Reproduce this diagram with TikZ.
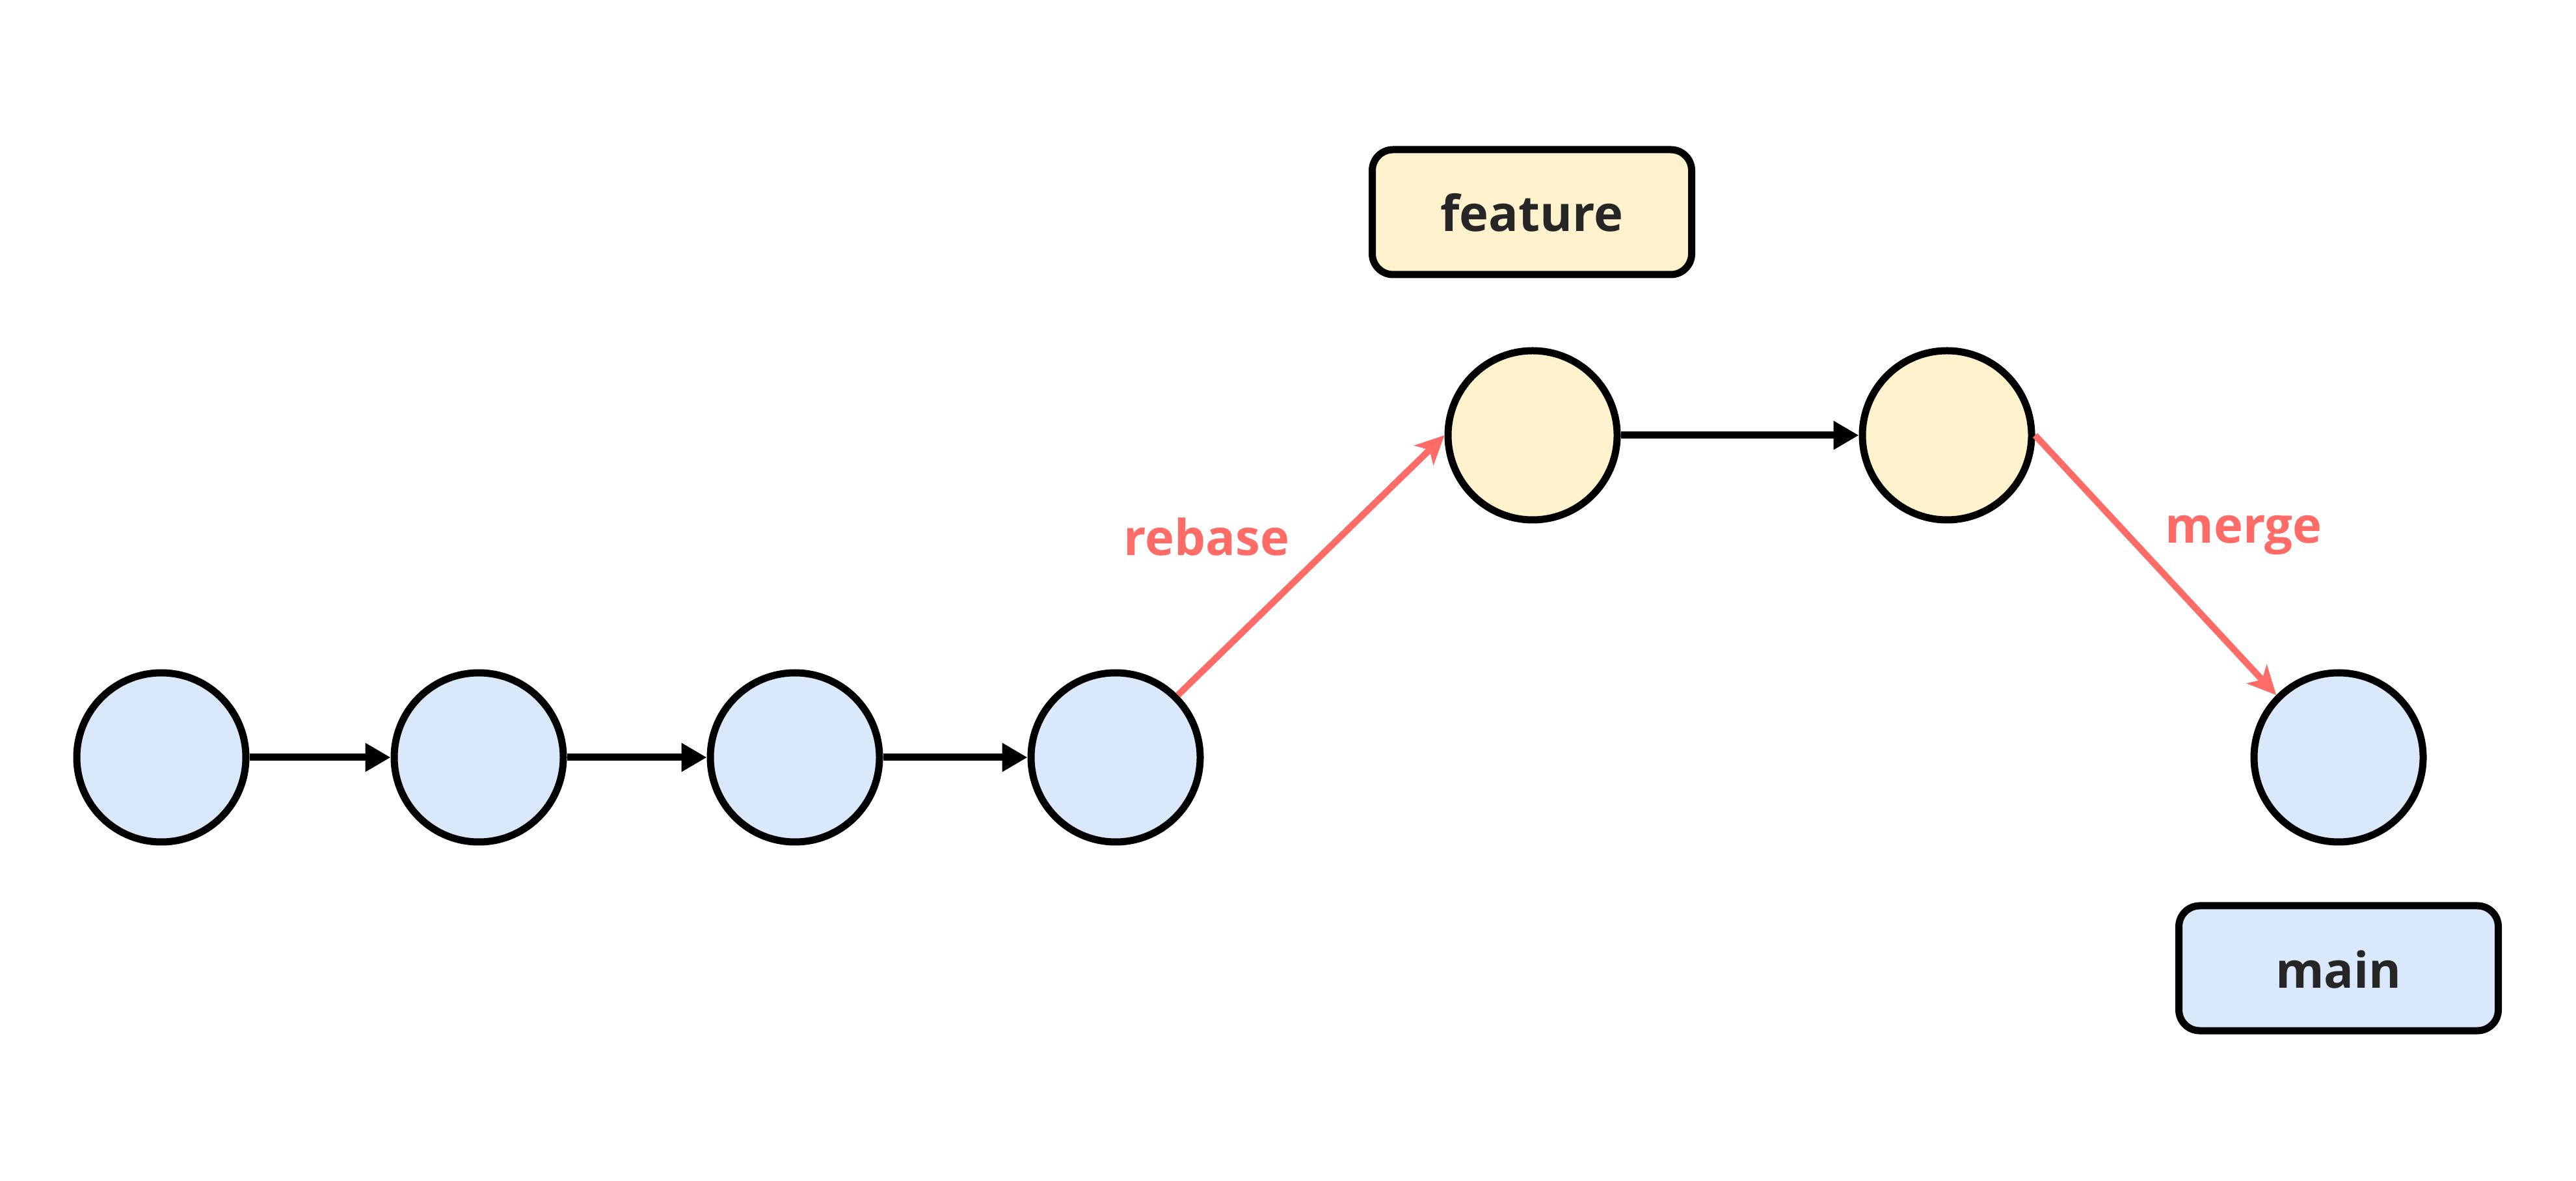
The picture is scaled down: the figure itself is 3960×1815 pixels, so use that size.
\documentclass[tikz,border=0pt]{standalone}
\usepackage{fontspec}
\setmainfont{Open Sans}
\usetikzlibrary{arrows.meta}
\definecolor{commitblue}{HTML}{DAE8FC}
\definecolor{commityellow}{HTML}{FFF2CC}
\definecolor{opred}{HTML}{FF6B66}
\definecolor{labeltext}{HTML}{262626}
\begin{document}
\begin{tikzpicture}[x=0.25pt,y=-0.25pt,
  commit/.style={circle,draw=black,line width=2.75pt,minimum size=65pt,inner sep=0pt},
  branch/.style={rectangle,rounded corners=8pt,draw=black,line width=2.75pt,
    minimum width=122.75pt,minimum height=48pt,inner sep=0pt,
    text height=15pt,text depth=0pt,font=\bfseries\fontsize{19}{23}\selectfont,text=labeltext},
  link/.style={line width=2.75pt,-{Triangle[length=9.75pt,width=10.5pt]}},
  op/.style={line width=2.5pt,draw=opred,-{Stealth[length=11pt,width=10.5pt,inset=3pt]}},
  oplabel/.style={anchor=base,inner sep=0pt,text=opred,font=\bfseries\fontsize{19}{23}\selectfont}]
  \useasboundingbox (0,0) rectangle (3960,1815);
  % main line commits
  \node[commit,fill=commitblue] (c1) at (248,1164) {};
  \node[commit,fill=commitblue] (c2) at (736,1164) {};
  \node[commit,fill=commitblue] (c3) at (1222,1164) {};
  \node[commit,fill=commitblue] (c4) at (1715,1164) {};
  % feature commits
  \node[commit,fill=commityellow] (f1) at (2356,669) {};
  \node[commit,fill=commityellow] (f2) at (2993,669) {};
  % merge result
  \node[commit,fill=commitblue] (m) at (3595,1164) {};
  % branch labels
  \node[branch,fill=commityellow] (feature) at (2355,326) {feature};
  \node[branch,fill=commitblue] (main) at (3595,1488) {main};
  % history
  \draw[link] (c1.east) -- (c2.west);
  \draw[link] (c2.east) -- (c3.west);
  \draw[link] (c3.east) -- (c4.west);
  \draw[link] (f1.east) -- (f2.west);
  % operations
  \draw[op] (c4.45) -- (f1.west);
  \draw[op] (f2.east) -- (m.135);
  \node[oplabel] (rebase) at (1855,854) {rebase};
  \node[oplabel] (merge) at (3449,835) {merge};
\end{tikzpicture}
\end{document}
